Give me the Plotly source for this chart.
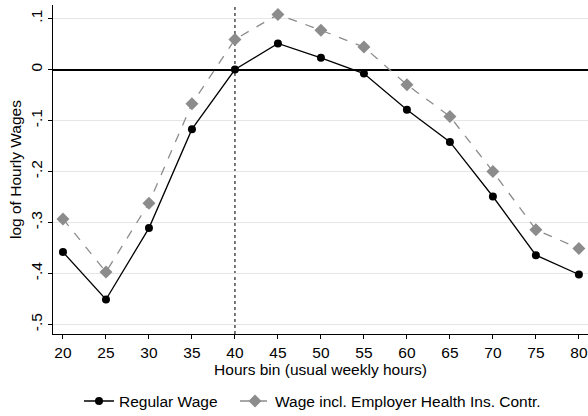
import plotly.graph_objects as go

hours = [20, 25, 30, 35, 40, 45, 50, 55, 60, 65, 70, 75, 80]
regular_wage = [-0.358, -0.451, -0.311, -0.117, 0.0, 0.051, 0.023, -0.008, -0.079, -0.142, -0.249, -0.364, -0.402]
wage_incl_health = [-0.293, -0.397, -0.262, -0.067, 0.059, 0.108, 0.077, 0.044, -0.030, -0.092, -0.200, -0.314, -0.351]
y_ticks = [-0.5, -0.4, -0.3, -0.2, -0.1, 0, 0.1]
y_tick_labels = ["-.5", "-.4", "-.3", "-.2", "-.1", "0", ".1"]
x_ticks = hours

FS = 15.5

fig = go.Figure()
fig.add_trace(go.Scatter(
    x=hours, y=regular_wage, mode="lines+markers", name="Regular Wage",
    line=dict(color="black", width=1.3),
    marker=dict(symbol="circle", size=8, color="black"),
    legend="legend",
))
fig.add_trace(go.Scatter(
    x=hours, y=wage_incl_health, mode="lines+markers",
    name="Wage incl. Employer Health Ins. Contr.",
    line=dict(color="#8c8c8c", width=1.3, dash="dash"),
    marker=dict(symbol="diamond", size=10, color="#8c8c8c"),
    legend="legend2",
))

fig.add_vline(x=40, line=dict(color="#333333", width=1.3, dash="dot"), layer="below")

leg_common = dict(orientation="h", xref="paper", xanchor="left",
                  yref="paper", y=-0.205, yanchor="middle",
                  font=dict(size=FS), itemwidth=30, bgcolor="rgba(0,0,0,0)")

fig.update_layout(
    width=588, height=416,
    margin=dict(l=53, r=0, t=5, b=82, autoexpand=False),
    paper_bgcolor="white", plot_bgcolor="white",
    font=dict(family="Liberation Sans, Arial, sans-serif", size=FS, color="black"),
    showlegend=True,
    legend=dict(x=(79 - 53) / 535, **leg_common),
    legend2=dict(x=(235 - 53) / 535, **leg_common),
    xaxis=dict(
        range=[18.84, 81.06], tickvals=x_ticks, ticks="outside", ticklen=4,
        tickcolor="black", showline=True, linecolor="black", linewidth=1,
        showgrid=False, zeroline=False,
        title=dict(text="Hours bin (usual weekly hours)", standoff=0, font=dict(size=FS)),
        tickfont=dict(size=FS),
    ),
    yaxis=dict(
        range=[-0.5186, 0.1265], tickvals=y_ticks, ticktext=y_tick_labels,
        tickangle=-90, ticks="outside", ticklen=4, tickcolor="black",
        showline=True, linecolor="black", linewidth=1,
        showgrid=True, gridcolor="#e6e6e6", gridwidth=1,
        zeroline=True, zerolinecolor="black", zerolinewidth=1.5,
        title=dict(text="log of Hourly Wages", standoff=2, font=dict(size=FS)),
        tickfont=dict(size=FS),
    ),
)

fig.write_html("out.html")
